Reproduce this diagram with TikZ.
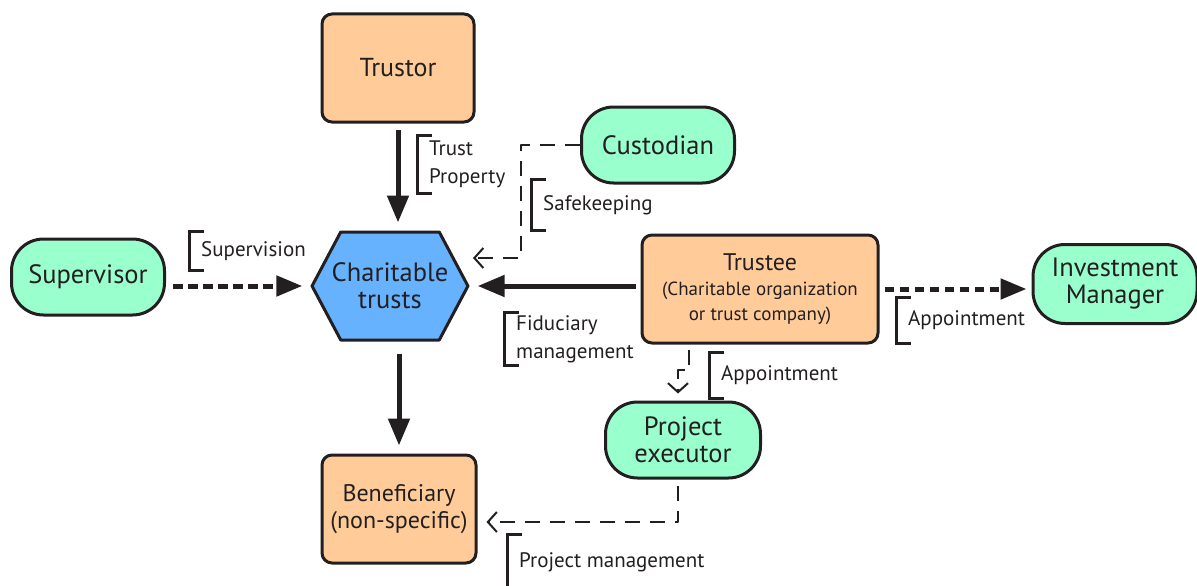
\documentclass[tikz,border=0pt]{standalone}
\usepackage{fontspec}
\setmainfont{PT Sans}
\usetikzlibrary{arrows.meta,shapes.symbols}

\definecolor{peach}{HTML}{FFCB99}
\definecolor{mint}{HTML}{99FFCC}
\definecolor{skyblue}{HTML}{66B2FF}
\definecolor{ink}{HTML}{231F20}

\newcommand{\bracketof}[1]{\draw[brk] ([xshift=15pt]#1.north west) -| (#1.west) |- ([xshift=15pt]#1.south west);}

\begin{document}
\begin{tikzpicture}[x=1pt, y=-1pt, line join=round,
  party/.style={draw=ink, line width=3pt, fill=peach, rounded corners=10pt, align=center, text=ink, inner sep=0pt},
  agent/.style={draw=ink, line width=3pt, fill=mint, rounded corners=32pt, align=center, text=ink, inner sep=0pt, minimum height=76pt, font=\fontsize{26.5}{27}\selectfont},
  flow/.style={draw=ink, line width=5pt, -{Triangle[length=27pt,width=21pt]}},
  duty/.style={draw=ink, line width=5pt, dash pattern=on 9.5pt off 5.5pt, -{Triangle[length=26pt,width=20pt]}},
  link/.style={draw=ink, line width=2pt, dash pattern=on 15pt off 10pt, -{Straight Barb[length=9pt,width=20pt]}},
  tag/.style={anchor=west, inner xsep=12pt, inner ysep=0pt, align=left, text=ink, font=\fontsize{21}{28}\selectfont},
  brk/.style={draw=ink, line width=3pt, line join=miter},
]
\useasboundingbox (0,0) rectangle (1197,586);

% parties
\node[party, minimum width=152pt, minimum height=108pt, font=\fontsize{26}{28}\selectfont] (trustor) at (398,68) {Trustor};
\node[draw=ink, line width=3pt, fill=skyblue, shape=signal, signal to=east and west, signal pointer angle=124,
      minimum height=108pt, inner xsep=-9pt, inner ysep=0pt, align=center, text=ink,
      font=\fontsize{26.5}{27}\selectfont] (trusts) at (390,286) {Charitable\\trusts};
\node[party, minimum width=236pt, minimum height=108pt, font=\fontsize{19}{25}\selectfont] (trustee) at (760,289)
      {{\fontsize{24}{24}\selectfont Trustee}\\(Charitable organization\\or trust company)};
\node[party, minimum width=154pt, minimum height=108pt, font=\fontsize{24}{27}\selectfont] (benef) at (399,509) {Beneficiary\\(non-specific)};

% agents
\node[agent, minimum width=153pt] (cust) at (658,145) {Custodian};
\node[agent, minimum width=153pt] (sup) at (88,277) {Supervisor};
\node[agent, minimum width=164pt, minimum height=79pt] (inv) at (1115,284) {Investment\\Manager};
\node[agent, minimum width=155pt] (proj) at (683,440) {Project\\executor};

% main flows
\draw[flow, shorten <=6pt, shorten >=8pt] (trustor.south) -- (trustor.south |- trusts.north);
\draw[flow, shorten <=5pt, shorten >=8pt] (trusts.east -| trustee.west) -- (trusts.east);
\draw[flow, shorten <=12pt, shorten >=8pt] (benef.north |- trusts.south) -- (benef.north);
\draw[duty, shorten <=7pt, shorten >=8pt] (sup.east |- trusts.west) -- (trusts.west);
\draw[duty, shorten <=5pt, shorten >=5pt] (trustee.east) -- (trustee.east -| inv.west);

% side links
\coordinate (safebend) at (521,258);
\coordinate (safetip) at (473,258);
\draw[link] (cust.west) -| (safebend) -- (safetip);

\coordinate (appjog) at (689,370);
\coordinate (appdrop) at (678,370);
\draw[link, shorten <=5pt, shorten >=7pt] (trustee.south -| appjog) -- (appjog) -- (appdrop) -- (appdrop |- proj.north);

\coordinate (projturn) at (678,522);
\draw[link, shorten <=6pt, shorten >=9pt] (proj.south -| projturn) -- (projturn) -- (projturn -| benef.east);

% labels
\node[tag, minimum height=57pt] (tprop) at (417,164.5) {Trust\\Property};
\node[tag, minimum height=50pt] (tsafe) at (531,205) {Safekeeping};
\node[tag, minimum height=38pt] (tsup) at (189,251) {Supervision};
\node[tag, minimum height=52pt] (tfid) at (504,339) {Fiduciary\\management};
\node[tag, minimum height=45pt] (tinv) at (896,320.5) {Appointment};
\node[tag, minimum height=45pt] (tproj) at (709,375.5) {Appointment};
\node[tag, minimum height=54pt] (tman) at (507,562) {Project management};
\foreach \t in {tprop,tsafe,tsup,tfid,tinv,tproj,tman} {\bracketof{\t}}

\end{tikzpicture}
\end{document}
